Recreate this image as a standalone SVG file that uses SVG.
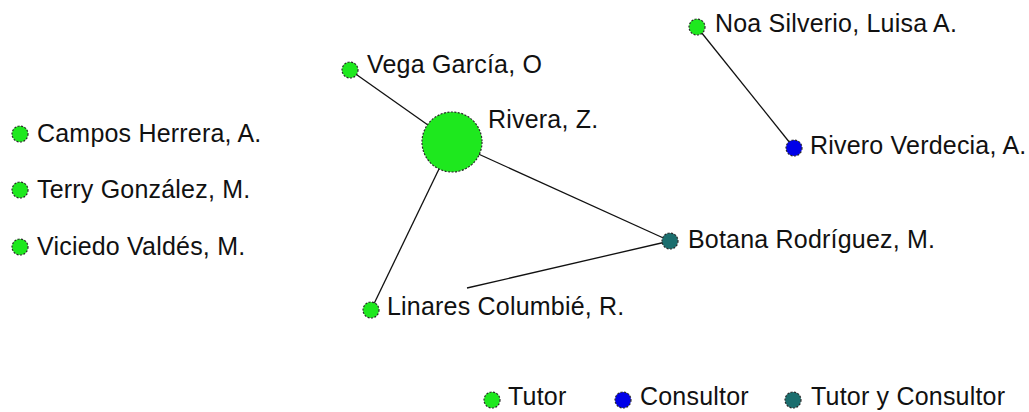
<svg xmlns="http://www.w3.org/2000/svg" width="1029" height="412" viewBox="0 0 1029 412">
<style>
text{font-family:"Liberation Sans",Arial,sans-serif;font-size:25px;letter-spacing:0.2px;fill:#111}
.n{stroke:#2a2a2a;stroke-width:1.2;stroke-dasharray:2 1.5}
.t{fill:#1ee81e}
.c{fill:#0000e8}
.tc{fill:#1b6e6e}
.e{stroke:#111;stroke-width:1.3;fill:none}
</style>
<rect width="1029" height="412" fill="#fff"/>
<g id="connectors">
<line class="e" x1="350" y1="70" x2="452" y2="142"/>
<line class="e" x1="452" y1="142" x2="670" y2="241"/>
<line class="e" x1="452" y1="142" x2="371" y2="310"/>
<line class="e" x1="467" y1="288" x2="670" y2="241"/>
<line class="e" x1="697" y1="27" x2="794" y2="148"/>
</g>
<g id="vega"><circle class="n t" cx="350" cy="70" r="8"/><text x="367" y="73">Vega García, O</text></g>
<g id="rivera"><circle class="n t" cx="452" cy="142" r="30"/><text x="488" y="128">Rivera, Z.</text></g>
<g id="campos"><circle class="n t" cx="20" cy="134" r="8"/><text x="37" y="142">Campos Herrera, A.</text></g>
<g id="terry"><circle class="n t" cx="20" cy="190" r="8"/><text x="37" y="198">Terry González, M.</text></g>
<g id="viciedo"><circle class="n t" cx="20" cy="247" r="8"/><text x="37" y="255">Viciedo Valdés, M.</text></g>
<g id="linares"><circle class="n t" cx="371" cy="310" r="8"/><text x="387" y="315">Linares Columbié, R.</text></g>
<g id="botana"><circle class="n tc" cx="670" cy="241" r="8"/><text x="688" y="248">Botana Rodríguez, M.</text></g>
<g id="noa"><circle class="n t" cx="697" cy="27" r="8"/><text x="715" y="32">Noa Silverio, Luisa A.</text></g>
<g id="rivero"><circle class="n c" cx="794" cy="148" r="8"/><text x="810" y="154">Rivero Verdecia, A.</text></g>
<g id="legend">
<circle class="n t" cx="492" cy="400" r="8"/><text x="508" y="405">Tutor</text>
<circle class="n c" cx="623" cy="400" r="8"/><text x="640" y="405">Consultor</text>
<circle class="n tc" cx="793" cy="400" r="8"/><text x="811" y="405">Tutor y Consultor</text>
</g>
</svg>
